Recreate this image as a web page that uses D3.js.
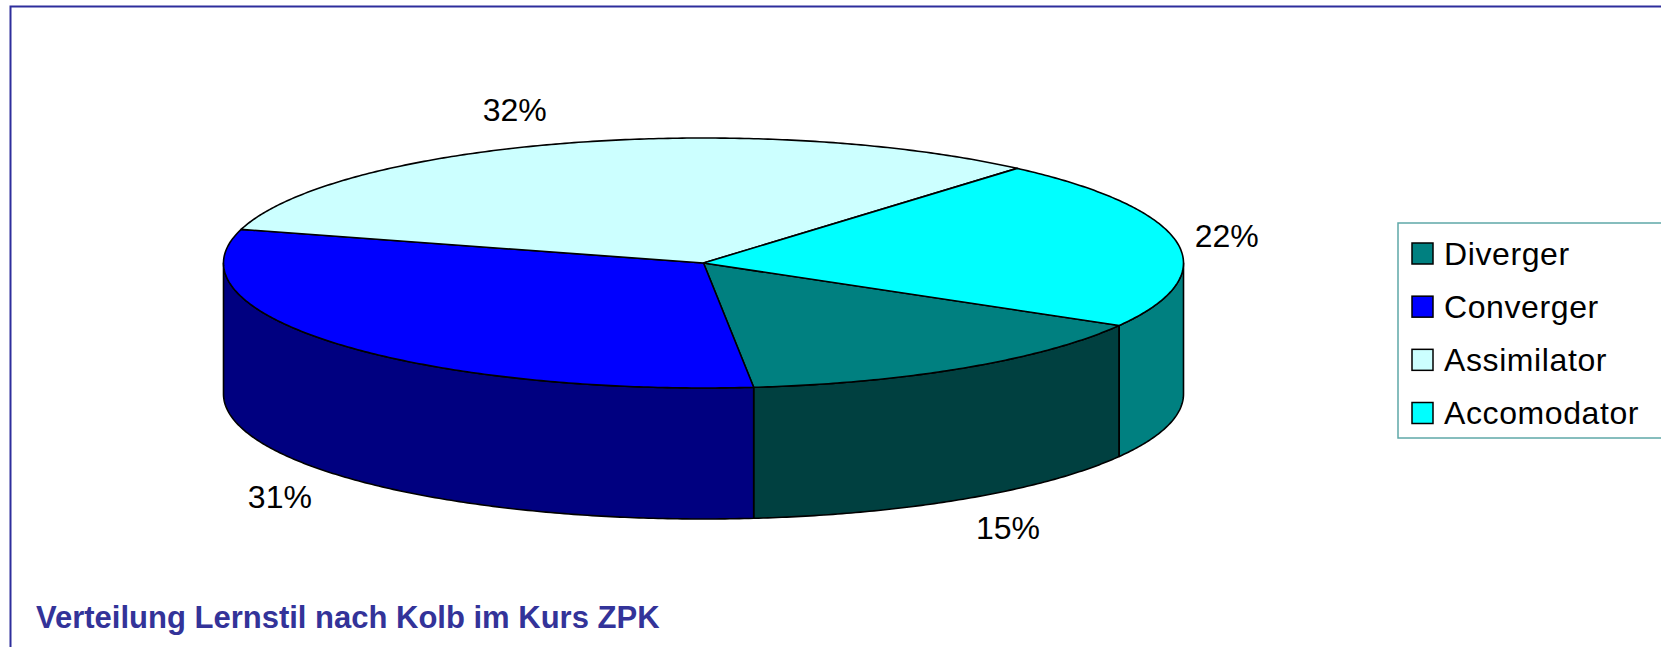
<!DOCTYPE html>
<html>
<head>
<meta charset="utf-8">
<script src="https://cdn.jsdelivr.net/npm/d3@7"></script>
<style>
  body { margin: 0; background: #fff; }
  svg { display: block; font-family: "Liberation Sans", Arial, sans-serif; }
</style>
</head>
<body>
<svg id="chart" width="1661" height="647"></svg>
<script>
const categories = ['Diverger', 'Converger', 'Assimilator', 'Accomodator'];
const shares = [15, 31, 32, 22];
const topColors = ['#008080', '#0000ff', '#ccffff', '#00ffff'];
const sideColors = ['#004040', '#000080', '#668080', '#008080'];
const chartTitle = 'Verteilung Lernstil nach Kolb im Kurs ZPK';

const svg = d3.select('#chart');
const W = +svg.attr('width'), H = +svg.attr('height');

// outer frame (only top and left edges are inside the picture)
svg.append('rect')
  .attr('x', 10.5).attr('y', 6.5)
  .attr('width', W).attr('height', H)
  .style('fill', 'none')
  .style('stroke', '#2e2e9c')
  .style('stroke-width', 2);

// 3d pie geometry
const cx = 703.5, cy = 263, rx = 480, ry = 125, depth = 131;
const start = Math.PI * 2 / 3; // first slice starts at 4 o'clock
const data = categories.map((c, i) => ({ name: c, value: shares[i], top: topColors[i], side: sideColors[i] }));
const arcs = d3.pie().sort(null).value(d => d.value)
  .startAngle(start).endAngle(start + 2 * Math.PI)(data);

// d3 pie angle -> ellipse parameter (0 = 3 o'clock, clockwise)
const toT = a => a - Math.PI / 2;
const ex = t => cx + rx * Math.cos(t);
const ey = t => cy + ry * Math.sin(t);

function arcPoints(t0, t1, dy) {
  const n = Math.max(2, Math.ceil(Math.abs(t1 - t0) / 0.01));
  return d3.range(n + 1).map(i => {
    const t = t0 + (t1 - t0) * i / n;
    return [ex(t), ey(t) + dy];
  });
}
const line = d3.line();

const pieG = svg.append('g');

// front walls
const frontRanges = [[0, Math.PI], [2 * Math.PI, 3 * Math.PI]];
arcs.forEach(a => {
  const t0 = toT(a.startAngle), t1 = toT(a.endAngle);
  frontRanges.forEach(r => {
    const s = Math.max(t0, r[0]), e = Math.min(t1, r[1]);
    if (e <= s) return;
    const pts = arcPoints(s, e, 0).concat(arcPoints(e, s, depth));
    pieG.append('path')
      .attr('d', line(pts) + 'Z')
      .style('fill', a.data.side)
      .style('stroke', '#000')
      .style('stroke-width', 1.6)
      .style('stroke-linejoin', 'round');
  });
});

// top faces
arcs.forEach(a => {
  const pts = [[cx, cy]].concat(arcPoints(toT(a.startAngle), toT(a.endAngle), 0));
  pieG.append('path')
    .attr('d', line(pts) + 'Z')
    .style('fill', a.data.top)
    .style('stroke', '#000')
    .style('stroke-width', 1.6)
    .style('stroke-linejoin', 'round');
});

// percentage labels
arcs.forEach(a => {
  const t = toT((a.startAngle + a.endAngle) / 2);
  const c = Math.cos(t), s = Math.sin(t);
  // front labels are nudged a little to the left
  const x = ex(t) + Math.sign(c) * 50 - (s > 0 ? 7 : 0);
  const y = ey(t) + (s > 0 ? depth : 0) + s * 35;
  svg.append('text')
    .attr('x', x).attr('y', y + 11)
    .attr('text-anchor', 'middle')
    .style('font-size', '32px')
    .style('fill', '#000')
    .text(d3.format('.0%')(a.data.value / d3.sum(shares)));
});

// legend
const legend = svg.append('g').attr('transform', 'translate(1398,223)');
legend.append('rect')
  .attr('x', 0).attr('y', 0)
  .attr('width', 400).attr('height', 215)
  .style('fill', '#fff')
  .style('stroke', '#5fa8a8')
  .style('stroke-width', 1.5);
const rowY = d3.scalePoint().domain(categories).range([30.5, 190]);
categories.forEach((c, i) => {
  legend.append('rect')
    .attr('x', 14).attr('y', rowY(c) - 10.5)
    .attr('width', 21).attr('height', 21)
    .style('fill', topColors[i])
    .style('stroke', '#000')
    .style('stroke-width', 1.5);
  legend.append('text')
    .attr('x', 46).attr('y', rowY(c) + 11)
    .style('font-size', '32px')
    .style('letter-spacing', '0.6px')
    .style('fill', '#000')
    .text(c);
});

// title
svg.append('text')
  .attr('x', 36).attr('y', 628)
  .style('font-size', '31px')
  .style('font-weight', 'bold')
  .style('fill', '#333399')
  .text(chartTitle);
</script>
</body>
</html>
